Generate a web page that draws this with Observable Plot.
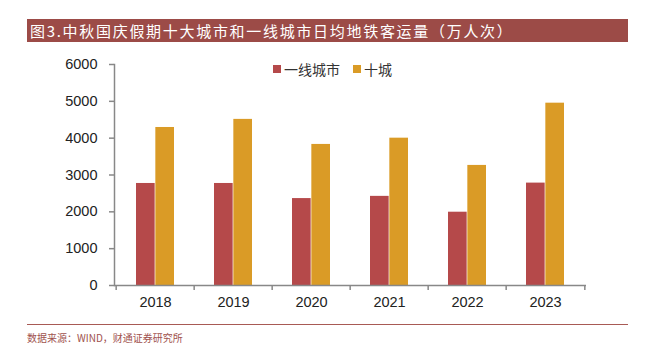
<!DOCTYPE html>
<html><head><meta charset="utf-8">
<script src="https://cdn.jsdelivr.net/npm/d3@7"></script>
<script src="https://cdn.jsdelivr.net/npm/@observablehq/plot@0.6"></script>
<style>
body{margin:0;background:#fff;}
#wrap{position:relative;width:653px;height:355px;overflow:hidden;font-family:"Noto Sans CJK SC",sans-serif;}
#title{position:absolute;left:27px;top:19px;width:601px;height:23px;background:#9C4B47;color:#fff;font-size:15px;line-height:23px;padding-left:3px;box-sizing:border-box;letter-spacing:1.7px;white-space:nowrap;}
#legend{position:absolute;top:59px;left:273px;font-size:14px;color:#333;}
.item{position:absolute;top:0;display:flex;align-items:center;white-space:nowrap;}
.sw{display:inline-block;width:8px;height:8px;margin-right:3px;}
#foot{position:absolute;left:27px;top:324px;width:601px;border-top:1px solid #A85A55;}
#src{position:absolute;left:27px;top:330px;font-size:10px;color:#A0524E;}
#chart{position:absolute;left:0;top:0;}
</style></head>
<body><div id="wrap">
<div id="chart"></div>
<div id="title">图3.中秋国庆假期十大城市和一线城市日均地铁客运量（万人次）</div>
<div id="legend"></div>
<div id="foot"></div>
<div id="src">数据来源：WIND，财通证券研究所</div>
</div>
<script>
const years = ["2018","2019","2020","2021","2022","2023"];
const tier1 = [2770, 2770, 2360, 2420, 1990, 2780];
const top10 = [4290, 4510, 3830, 4000, 3260, 4950];
const seriesNames = ["一线城市","十城"];
const colors = ["#B5494A","#DA9B26"];
const yTicks = [0,1000,2000,3000,4000,5000,6000];

const rows = years.map((y,i)=>({year:y, a:tier1[i], b:top10[i]}));
const half = (653-114-67)/years.length/2;

const chart = Plot.plot({
  width:653, height:355,
  marginTop:64, marginBottom:70, marginLeft:114, marginRight:67,
  style:{fontFamily:"'Liberation Sans', Arial, sans-serif", fontSize:"14.5px", color:"#222", background:"transparent"},
  x:{domain:years, padding:0},
  y:{domain:[0,6000]},
  marks:[
    Plot.barY(rows,{x:"year", y:"a", fill:colors[0], insetLeft:20, insetRight:half}),
    Plot.barY(rows,{x:"year", y:"b", fill:colors[1], insetLeft:half, insetRight:20}),
    Plot.ruleY([0],{stroke:"#888", strokeWidth:1.5}),
    Plot.ruleX(years,{x:d=>d, y1:0, y2:0, insetBottom:-5, dx:-half, stroke:"#888", strokeWidth:1.5}),
    Plot.ruleX([years[years.length-1]],{x:d=>d, y1:0, y2:0, insetBottom:-5, dx:half, stroke:"#888", strokeWidth:1.5}),
    Plot.frame({anchor:"left", stroke:"#888", strokeWidth:1.5}),
    Plot.axisY({ticks:yTicks, tickFormat:d3.format("d"), tickSize:5, tickPadding:12, stroke:"#888", strokeWidth:1.5, label:null, fill:"#222", fontSize:14.5}),
    Plot.axisX({tickSize:0, tickPadding:11, label:null, fill:"#222", fontSize:14.5})
  ]
});
document.getElementById("chart").appendChild(chart);

const lg = document.getElementById("legend");
const offsets = [0, 80];
seriesNames.forEach((n,i)=>{
  const s=document.createElement("div");
  s.className="item";
  s.style.left=offsets[i]+"px";
  s.innerHTML=`<span class="sw" style="background:${colors[i]}"></span>${n}`;
  lg.appendChild(s);
});
</script>
</body></html>
